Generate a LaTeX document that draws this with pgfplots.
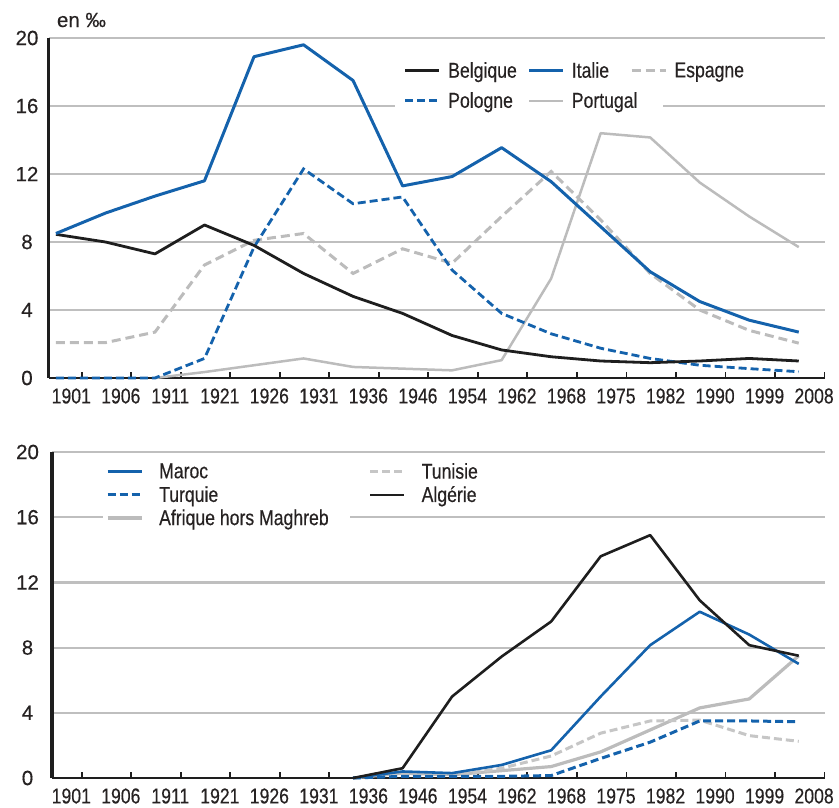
\documentclass[border=0pt]{standalone}
\usepackage{fontspec}
\setmainfont{Liberation Sans}[FakeStretch=0.82, FakeBold=0.35]
\newfontfamily\wide{Liberation Sans}[FakeBold=0.35]
\usepackage{pgfplots}
\pgfplotsset{compat=1.18}
\usepackage{pgfplotstable}
\definecolor{blu}{HTML}{1462AC}
\definecolor{gry}{HTML}{BCBCBC}
\definecolor{lgry}{HTML}{C6C6C6}
\definecolor{gridc}{HTML}{BFBFBF}
\definecolor{blk}{HTML}{1E1E1E}
\definecolor{txt}{HTML}{262222}
\newcommand{\fs}{\fontsize{21.5}{25}\selectfont}
\newcommand{\fw}{\wide\fontsize{20.5}{24}\selectfont}

\pgfplotstableread{
k Bel Ita Esp Pol Por
0 8.45 8.5 2.08 0 nan
1 8.0 9.7 2.08 0 nan
2 7.3 10.7 2.7 0 0
3 9.0 11.6 6.65 1.15 0.35
4 7.8 18.9 8.1 7.7 0.75
5 6.15 19.6 8.5 12.3 1.15
6 4.8 17.5 6.15 10.25 0.65
7 3.8 11.3 7.6 10.65 0.55
8 2.5 11.85 6.75 6.35 0.45
9 1.65 13.55 9.5 3.8 1.05
10 1.25 11.55 12.15 2.6 5.85
11 1.0 8.9 9.3 1.75 14.4
12 0.9 6.25 6.15 1.15 14.15
13 1.0 4.5 4.0 0.75 11.5
14 1.15 3.4 2.8 0.55 9.5
15 1.0 2.7 2.05 0.37 7.7
}\toptable

\pgfplotstableread{
k Mar Tur Tun Alg Afr
6 0 0 0 0 0
7 0.4 0.1 0.2 0.6 0.3
8 0.3 0.1 0.15 5.0 0.2
9 0.8 0.1 0.6 7.45 0.45
10 1.7 0.15 1.35 9.6 0.7
11 5.0 1.2 2.75 13.6 1.6
12 8.15 2.2 3.5 14.9 2.95
13 10.2 3.5 3.55 10.9 4.3
14 8.8 3.5 2.6 8.15 4.85
15 7.0 3.45 2.25 7.5 7.5
}\bottable

\pgfplotsset{
 base/.style={
  scale only axis, anchor=south west,
  ymin=0, ymax=20, xmax=15.53,
  axis x line*=bottom, axis y line*=left,
  x axis line style={-, draw=blk, line width=2.2pt},
  y axis line style={-, draw=blk, line width=3pt},
  ytick={0,4,8,12,16,20},
  ymajorgrids, major grid style={draw=gridc, line width=2.2pt},
  ytick style={draw=none},
  xtick={0.52,1.52,2.52,3.52,4.52,5.52,6.52,7.52,8.52,9.52,10.52,11.52,12.52,13.52,14.52,15.52},
  xticklabels={},
  xtick style={draw=blk, line width=1.8pt},
  major tick length=5.5pt, tick align=inside,
  extra x ticks={0.31,1.31,2.31,3.31,4.31,5.31,6.31,7.31,8.31,9.31,10.31,11.31,12.31,13.31,14.31,15.31},
  extra x tick labels={1901,1906,1911,1921,1926,1931,1936,1946,1954,1962,1968,1975,1982,1990,1999,2008},
  extra x tick style={major tick length=0pt, tick style={draw=none}},
  xticklabel style={font=\fs, text=txt, anchor=center, yshift=-18pt},
  yticklabel style={font=\fw, text=txt, anchor=center},
  /pgf/number format/assume math mode=true,
  legend cell align=left,
  legend image code/.code={\draw[##1] (0pt,0pt) -- (34pt,0pt);},
  unbounded coords=discard,
  clip=false,
 },
 sBel/.style={draw=blk, line width=2.8pt, line join=round},
 sIta/.style={draw=blu, line width=3pt, line join=round},
 sEsp/.style={draw=gry, line width=3pt, dash pattern=on 9pt off 5pt},
 sPol/.style={draw=blu, line width=2.8pt, dash pattern=on 8pt off 4pt},
 sPor/.style={draw=gry, line width=2.5pt, line join=round},
 sMar/.style={draw=blu, line width=2.6pt, line join=round},
 sTur/.style={draw=blu, line width=3pt, dash pattern=on 8pt off 4pt},
 sTun/.style={draw=lgry, line width=3pt, dash pattern=on 8pt off 4pt},
 sAlg/.style={draw=blk, line width=2.6pt, line join=round},
 sAfr/.style={draw=gry, line width=3.2pt, line join=round},
}

\begin{document}
\begin{tikzpicture}
\useasboundingbox (0,0) rectangle (839pt,807pt);
\node[anchor=center, font=\fw, text=txt, inner sep=0pt] at (81.5pt,787pt) {en ‰};

\begin{axis}[base, at={(49pt,429pt)}, width=776pt, height=340pt, xmin=-0.14,
  yticklabel style={xshift=-22pt},
  legend columns=3,
  legend style={at={(0.457,0.929)}, anchor=north west, draw=none, fill=none,
    inner sep=0pt, outer sep=0pt, font=\fs, text=txt, nodes={inner sep=0pt},
    row sep=13pt, /tikz/every odd column/.append style={column sep=7pt}}]
\fill[white] (axis cs:6.85,15.4) rectangle (axis cs:12.26,16.6);
\addplot[sPor, forget plot] table[x=k, y=Por] {\toptable};
\addplot[sEsp, forget plot] table[x=k, y=Esp] {\toptable};
\addplot[sPol, forget plot] table[x=k, y=Pol] {\toptable};
\addplot[sBel, forget plot] table[x=k, y=Bel] {\toptable};
\addplot[sIta, forget plot] table[x=k, y=Ita] {\toptable};
\addlegendimage{sBel, line width=3.6pt}\addlegendentry{\makebox[79pt][l]{Belgique}}
\addlegendimage{sIta, line width=3.6pt}\addlegendentry{\makebox[58pt][l]{Italie}}
\addlegendimage{sEsp, line width=3.6pt}\addlegendentry{Espagne}
\addlegendimage{sPol}\addlegendentry{\makebox[79pt][l]{Pologne}}
\addlegendimage{sPor}\addlegendentry{\makebox[58pt][l]{Portugal}}
\end{axis}

\begin{axis}[base, at={(52pt,29pt)}, width=773pt, height=326pt, xmin=-0.08,
  yticklabel style={xshift=-24.5pt},
  legend columns=2,
  legend style={at={(0.0698,0.966)}, anchor=north west, draw=none, fill=none,
    inner sep=0pt, outer sep=0pt, font=\fs, text=txt, nodes={inner sep=0pt},
    row sep=6pt, /tikz/every odd column/.append style={column sep=16pt},
    /tikz/every even column/.append style={column sep=40pt}}]
\fill[white] (axis cs:0.95,15.4) rectangle (axis cs:5.94,16.6);
\addplot[sAfr, forget plot] table[x=k, y=Afr] {\bottable};
\addplot[sTun, forget plot] table[x=k, y=Tun] {\bottable};
\addplot[sTur, forget plot] table[x=k, y=Tur] {\bottable};
\addplot[sMar, forget plot] table[x=k, y=Mar] {\bottable};
\addplot[sAlg, forget plot] table[x=k, y=Alg] {\bottable};
\addlegendimage{sMar}\addlegendentry{Maroc}
\addlegendimage{sTun}\addlegendentry{Tunisie}
\addlegendimage{sTur}\addlegendentry{Turquie}
\addlegendimage{sAlg}\addlegendentry{Algérie}
\addlegendimage{sAfr}\addlegendentry{Afrique hors Maghreb}
\end{axis}
\end{tikzpicture}
\end{document}
